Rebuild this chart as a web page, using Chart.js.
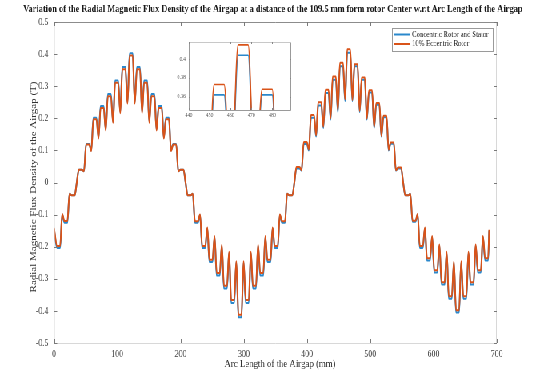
<!DOCTYPE html>
<html>
<head>
<meta charset="utf-8">
<script src="https://cdn.jsdelivr.net/npm/chart.js@4.4.1/dist/chart.umd.min.js"></script>
<style>
html, body { margin: 0; padding: 0; background: #fff; overflow: hidden; }
#frame { position: relative; width: 674px; height: 371px; transform: scaleX(0.8); transform-origin: 0 0; }
#main { position: absolute; left: 0; top: 0; }
#inset { position: absolute; left: 205px; top: 34px; }
</style>
</head>
<body>
<div id="frame">
    <canvas id="main" width="674" height="371"></canvas>
    <canvas id="inset" width="170" height="90"></canvas>
</div>
<script>
const titleText = 'Variation of the Radial Magnetic Flux Density of the Airgap at a distance of the 109.5 mm form rotor Center w.r.t Arc Length of the Airgap';
const xTitle = 'Arc Length of the Airgap (mm)';
const yTitle = 'Radial Magnetic Flux Density of the Airgap (T)';
const seriesNames = ['Concentric Rotor and Stator', '10% Eccentric Rotor'];

const xTicks = [0, 100, 200, 300, 400, 500, 600, 700];
const yTicks = [-0.5, -0.4, -0.3, -0.2, -0.1, 0, 0.1, 0.2, 0.3, 0.4, 0.5];
const insetXTicks = [440, 450, 460, 470, 480];
const insetYTicks = [0.36, 0.38, 0.4];

// tooth tops (mm) and the flux level on each one
const toothCentre = [7.3, 18.8, 30.3, 41.7, 53.2, 64.7, 76.1, 87.6, 99.1, 110.5,
    122.0, 133.5, 144.9, 156.4, 167.9, 179.3, 190.8, 202.3, 213.7, 225.2,
    236.7, 248.1, 259.6, 271.1, 282.5, 294.0, 305.5, 316.9, 328.4, 339.9,
    351.3, 362.8, 374.3, 385.7, 397.2, 408.7, 420.1, 431.6, 443.1, 454.5,
    466.0, 477.5, 488.9, 500.4, 511.9, 523.3, 534.8, 546.3, 557.7, 569.2,
    580.7, 592.1, 603.6, 615.1, 626.5, 638.0, 649.5, 660.9, 672.4, 683.9];
const concentricTooth = [-0.204, -0.125, -0.04,
    0.04, 0.12, 0.202, 0.238, 0.276, 0.318, 0.360, 0.403, 0.360, 0.318, 0.276, 0.238, 0.202, 0.12, 0.04,
    -0.04, -0.125, -0.204, -0.248, -0.29, -0.33, -0.375, -0.42, -0.375, -0.33, -0.29, -0.248, -0.204, -0.125, -0.04,
    0.044, 0.120, 0.202, 0.240, 0.279, 0.320, 0.362, 0.404, 0.362, 0.320, 0.280, 0.242, 0.203, 0.121, 0.044,
    -0.04, -0.122, -0.204, -0.243, -0.28, -0.318, -0.362, -0.405, -0.362, -0.318, -0.28, -0.243];
const eccentricTooth = [-0.198, -0.12, -0.04,
    0.04, 0.118, 0.197, 0.232, 0.269, 0.311, 0.353, 0.396, 0.353, 0.311, 0.269, 0.232, 0.197, 0.118, 0.04,
    -0.04, -0.121, -0.198, -0.241, -0.282, -0.322, -0.366, -0.412, -0.366, -0.322, -0.282, -0.241, -0.198, -0.121, -0.04,
    0.048, 0.126, 0.210, 0.250, 0.289, 0.330, 0.373, 0.415, 0.368, 0.327, 0.287, 0.248, 0.208, 0.125, 0.047,
    -0.04, -0.119, -0.198, -0.236, -0.273, -0.311, -0.354, -0.398, -0.354, -0.311, -0.273, -0.236];

// slot openings (mm) and the dip of the flux there
const slotX = [0, 13.0, 24.5, 36.0, 47.4, 58.9, 70.4, 81.8, 93.3, 104.8,
    116.2, 127.7, 139.2, 150.6, 162.1, 173.6, 185.0, 196.5, 208.0, 219.4,
    230.9, 242.4, 253.8, 265.3, 276.8, 288.2, 299.7, 311.2, 322.6, 334.1,
    345.6, 357.0, 368.5, 380.0, 391.4, 402.9, 414.4, 425.8, 437.3, 448.8,
    460.2, 471.7, 483.2, 494.6, 506.1, 517.6, 529.0, 540.5, 552.0, 563.4,
    574.9, 586.4, 597.8, 609.3, 620.8, 632.2, 643.7, 655.2, 666.6, 678.1, 688];
const concentricSlot = [-0.145, -0.10, -0.035, 0.0,
    0.035, 0.10, 0.14, 0.165, 0.19, 0.22, 0.25, 0.25, 0.22, 0.19, 0.165, 0.14, 0.10, 0.035, 0.0,
    -0.035, -0.102, -0.143, -0.17, -0.197, -0.22, -0.249, -0.249, -0.22, -0.197, -0.17, -0.143, -0.102, -0.035, 0.0,
    0.037, 0.10, 0.143, 0.17, 0.196, 0.22, 0.254, 0.254, 0.22, 0.196, 0.17, 0.143, 0.10, 0.037, 0.0,
    -0.035, -0.10, -0.143, -0.17, -0.197, -0.22, -0.249, -0.249, -0.22, -0.197, -0.17, -0.15];
const eccentricSlot = [-0.142, -0.098, -0.035, 0.0,
    0.035, 0.098, 0.137, 0.162, 0.186, 0.216, 0.246, 0.246, 0.216, 0.186, 0.162, 0.137, 0.098, 0.035, 0.0,
    -0.035, -0.10, -0.14, -0.167, -0.193, -0.216, -0.245, -0.245, -0.216, -0.193, -0.167, -0.14, -0.10, -0.035, 0.0,
    0.038, 0.103, 0.147, 0.174, 0.2, 0.225, 0.259, 0.257, 0.223, 0.199, 0.173, 0.145, 0.102, 0.038, 0.0,
    -0.035, -0.098, -0.14, -0.167, -0.193, -0.216, -0.245, -0.245, -0.216, -0.193, -0.167, -0.147];

const toothHalf = 2.4; // half width of the flat tooth top, mm

function buildTrace(toothLevels, slotLevels) {
    const pts = [{ x: slotX[0], y: slotLevels[0] }];
    toothCentre.forEach((c, i) => {
        pts.push({ x: c - toothHalf, y: toothLevels[i] });
        pts.push({ x: c + toothHalf, y: toothLevels[i] });
        pts.push({ x: slotX[i + 1], y: slotLevels[i + 1] });
    });
    return pts;
}

function fmt(v) {
    return String(Math.round(v * 100) / 100);
}

Chart.defaults.font.family = "'Liberation Serif', 'Times New Roman', serif";

// matlab style box with ticks pointing inwards
const axisBox = {
    id: 'axisBox',
    afterDraw(chart, args, opts) {
        const { ctx, chartArea: a, scales } = chart;
        ctx.save();
        ctx.lineWidth = 1;
        ctx.strokeStyle = opts.side;
        ctx.beginPath();
        ctx.moveTo(a.left + 0.5, a.top);
        ctx.lineTo(a.left + 0.5, a.bottom + 0.5);
        ctx.lineTo(a.right - 0.5, a.bottom + 0.5);
        ctx.lineTo(a.right - 0.5, a.top);
        ctx.stroke();
        ctx.strokeStyle = opts.top;
        ctx.beginPath();
        ctx.moveTo(a.left, a.top + 0.5);
        ctx.lineTo(a.right, a.top + 0.5);
        ctx.stroke();
        ctx.strokeStyle = opts.tick;
        ctx.beginPath();
        scales.x.ticks.forEach(t => {
            const px = Math.round(scales.x.getPixelForValue(t.value)) + 0.5;
            ctx.moveTo(px, a.bottom); ctx.lineTo(px, a.bottom - opts.len);
            ctx.moveTo(px, a.top); ctx.lineTo(px, a.top + opts.len);
        });
        scales.y.ticks.forEach(t => {
            const py = Math.round(scales.y.getPixelForValue(t.value)) + 0.5;
            ctx.moveTo(a.left, py); ctx.lineTo(a.left + opts.len, py);
            ctx.moveTo(a.right, py); ctx.lineTo(a.right - opts.len, py);
        });
        ctx.stroke();
        ctx.restore();
    }
};

const textLayer = {
    id: 'textLayer',
    afterDraw(chart) {
        const ctx = chart.ctx;
        ctx.save();
        ctx.textAlign = 'center';
        ctx.textBaseline = 'middle';
        ctx.fillStyle = '#1a1a1a';
        ctx.font = "bold 10.5px 'Liberation Serif'";
        ctx.fillText(titleText, 341, 9);
        ctx.fillStyle = '#333';
        ctx.font = "11px 'Liberation Serif'";
        ctx.fillText(xTitle, 350, 364);
        ctx.translate(42, 187);
        ctx.rotate(-Math.PI / 2);
        ctx.fillText(yTitle, 0, 0);
        ctx.restore();

        // legend box
        ctx.save();
        ctx.fillStyle = '#fff';
        ctx.fillRect(490, 28, 126, 24);
        ctx.strokeStyle = '#9a9a9a';
        ctx.lineWidth = 1;
        ctx.strokeRect(490.5, 28.5, 126, 23);
        ctx.font = "8.5px 'Liberation Serif'";
        ctx.textAlign = 'left';
        ctx.textBaseline = 'middle';
        chart.data.datasets.forEach((ds, i) => {
            const y = 34.5 + i * 9.5;
            ctx.strokeStyle = ds.borderColor;
            ctx.lineWidth = 2;
            ctx.beginPath();
            ctx.moveTo(492, y);
            ctx.lineTo(512, y);
            ctx.stroke();
            ctx.fillStyle = '#222';
            ctx.fillText(ds.label, 515, y);
        });
        ctx.restore();
    }
};

function makeDatasets(width) {
    return [{
        label: seriesNames[0],
        data: buildTrace(concentricTooth, concentricSlot),
        borderColor: '#2a88cc',
        borderWidth: width,
        order: 1
    }, {
        label: seriesNames[1],
        data: buildTrace(eccentricTooth, eccentricSlot),
        borderColor: '#D95319',
        borderWidth: width,
        order: 0
    }];
}

// MAIN CHART
new Chart(document.getElementById('main'), {
    type: 'line',
    data: { datasets: makeDatasets(2) },
    options: {
        responsive: false,
        animation: false,
        devicePixelRatio: 1,
        layout: { padding: { left: 37.5, right: 53, top: 22, bottom: 8 } },
        elements: {
            point: { radius: 0 },
            line: { cubicInterpolationMode: 'monotone', fill: false }
        },
        scales: {
            x: {
                type: 'linear', min: 0, max: 700,
                grid: { display: false, drawTicks: false },
                border: { display: false },
                afterBuildTicks: s => { s.ticks = xTicks.map(v => ({ value: v })); },
                afterFit: s => { s.height = 20; },
                ticks: { padding: 5, color: '#444', font: { size: 10 }, maxRotation: 0, callback: v => fmt(v) }
            },
            y: {
                type: 'linear', min: -0.5, max: 0.5,
                grid: { display: false, drawTicks: false },
                border: { display: false },
                afterBuildTicks: s => { s.ticks = yTicks.map(v => ({ value: v })); },
                afterFit: s => { s.width = 30; },
                ticks: { padding: 7, color: '#444', font: { size: 10 }, callback: v => fmt(v) }
            }
        },
        plugins: {
            legend: { display: false },
            tooltip: { enabled: false },
            axisBox: { side: '#d8d8d8', top: '#8c8c8c', tick: '#7a7a7a', len: 4 }
        }
    },
    plugins: [axisBox, textLayer]
});

// INSET (zoom on the second peak)
new Chart(document.getElementById('inset'), {
    type: 'line',
    data: { datasets: makeDatasets(1.6) },
    options: {
        responsive: false,
        animation: false,
        devicePixelRatio: 1,
        layout: { padding: { left: 7, right: 11, top: 8, bottom: 2 } },
        elements: {
            point: { radius: 0 },
            line: { cubicInterpolationMode: 'monotone', fill: false }
        },
        scales: {
            x: {
                type: 'linear', min: 440, max: 489,
                grid: { display: false, drawTicks: false },
                border: { display: false },
                afterBuildTicks: s => { s.ticks = insetXTicks.map(v => ({ value: v })); },
                afterFit: s => { s.height = 12; },
                ticks: { padding: 2, color: '#555', font: { size: 6 }, maxRotation: 0, callback: v => fmt(v) }
            },
            y: {
                type: 'linear', min: 0.346, max: 0.418,
                grid: { display: false, drawTicks: false },
                border: { display: false },
                afterBuildTicks: s => { s.ticks = insetYTicks.map(v => ({ value: v })); },
                afterFit: s => { s.width = 24; },
                ticks: { padding: 4, color: '#555', font: { size: 6 }, callback: v => fmt(v) }
            }
        },
        plugins: {
            legend: { display: false },
            tooltip: { enabled: false },
            axisBox: { side: '#9a9a9a', top: '#c8c8c8', tick: '#888', len: 2 }
        }
    },
    plugins: [axisBox]
});
</script>
</body>
</html>
